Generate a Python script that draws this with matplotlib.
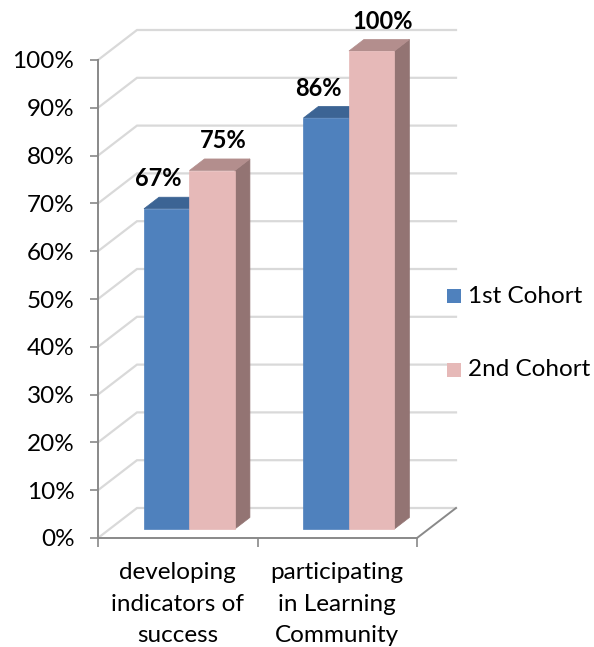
import matplotlib
matplotlib.use("Agg")
import matplotlib.pyplot as plt
from matplotlib.patches import Rectangle

# ---- data ----
categories = ["developing\nindicators of\nsuccess", "participating\nin Learning\nCommunity"]
series_names = ["1st Cohort", "2nd Cohort"]
cohort1 = [67, 86]
cohort2 = [75, 100]
yticks = [0, 10, 20, 30, 40, 50, 60, 70, 80, 90, 100]

front_colors = ["#4F81BD", "#E6B9B8"]
top_colors = ["#3C6494", "#B38E8D"]
side_colors = ["#36597F", "#937473"]

FONT = "Lato"
FS = 17.5
FSB = 17
W, H = 594, 647
fig = plt.figure(figsize=(W / 100, H / 100), dpi=100)
ax = fig.add_axes([98 / W, 1 - 538 / H, (417 - 98) / W, (538 - 60) / H])
ax.set_xlim(-0.5, 1.5)
ax.set_ylim(0, 100)

# depth projection (full depth offset in data units)
DX = 39 / 159.5
DY = 30 / 4.78


def proj(x, y, d):
    return x + d * DX, y + d * DY


grid_c = "#D9D9D9"
axis_c = "#898989"
for v in yticks:
    p0 = proj(-0.5, v, 0)
    p1 = proj(-0.5, v, 1)
    p2 = proj(1.5, v, 1)
    ax.plot([p0[0], p1[0], p2[0]], [p0[1], p1[1], p2[1]], color=grid_c, lw=1.6,
            clip_on=False, zorder=1, solid_joinstyle="miter")
# floor right edge
q0 = proj(1.5, 0, 0)
q1 = proj(1.5, 0, 1)
ax.plot([q0[0], q1[0]], [q0[1], q1[1]], color=axis_c, lw=1.4, clip_on=False, zorder=1)

# bars
bw = 0.285
d0, d1 = 0.3, 0.685
series = [cohort1, cohort2]
label_dx = [-6, 8]  # points
for ci in range(len(categories)):
    for si, vals in enumerate(series):
        v = vals[ci]
        x0 = ci - bw + si * bw
        x1 = x0 + bw
        side = [proj(x1, 0, d0), proj(x1, 0, d1), proj(x1, v, d1), proj(x1, v, d0)]
        top = [proj(x0, v, d0), proj(x1, v, d0), proj(x1, v, d1), proj(x0, v, d1)]
        front = [proj(x0, 0, d0), proj(x1, 0, d0), proj(x1, v, d0), proj(x0, v, d0)]
        z = 3 + si
        for poly, col in ((side, side_colors[si]), (top, top_colors[si]), (front, front_colors[si])):
            ax.fill([p[0] for p in poly], [p[1] for p in poly], color=col, lw=0.5,
                    ec=col, clip_on=False, zorder=z)
        cx, cy = proj((x0 + x1) / 2, v, d0)
        ax.annotate(f"{v}%", xy=(cx, cy), xytext=(label_dx[si], 21.5),
                    textcoords="offset points", ha="center", va="center",
                    fontsize=FSB, fontweight="bold", family=FONT, color="black",
                    annotation_clip=False, zorder=10)

# axes styling
for s in ("top", "right"):
    ax.spines[s].set_visible(False)
for s in ("left", "bottom"):
    ax.spines[s].set_color(axis_c)
    ax.spines[s].set_linewidth(1.4)
    ax.spines[s].set_zorder(2)
ax.set_yticks(yticks)
ax.set_yticklabels([f"{v}%" for v in yticks], fontsize=FS, family=FONT)
ax.tick_params(axis="y", length=6, width=1.2, color=axis_c, pad=11)
ax.set_xticks([-0.5, 0.5, 1.5])
ax.set_xticklabels([])
ax.tick_params(axis="x", which="major", length=6.5, width=1.2, color=axis_c)
ax.set_xticks([0, 1], minor=True)
ax.set_xticklabels(categories, minor=True, fontsize=FS, family=FONT, linespacing=1.6)
ax.tick_params(axis="x", which="minor", length=0, pad=17.5)
ax.set_facecolor("none")

# legend
leg_y = [296, 370]
for si, name in enumerate(series_names):
    fig.add_artist(Rectangle((447 / W, 1 - (leg_y[si] + 7) / H), 14 / W, 14 / H,
                             transform=fig.transFigure, color=front_colors[si], lw=0))
    fig.text(468 / W, 1 - leg_y[si] / H, name, fontsize=FS, family=FONT, va="center", ha="left")

fig.savefig("out.png", dpi=100)
